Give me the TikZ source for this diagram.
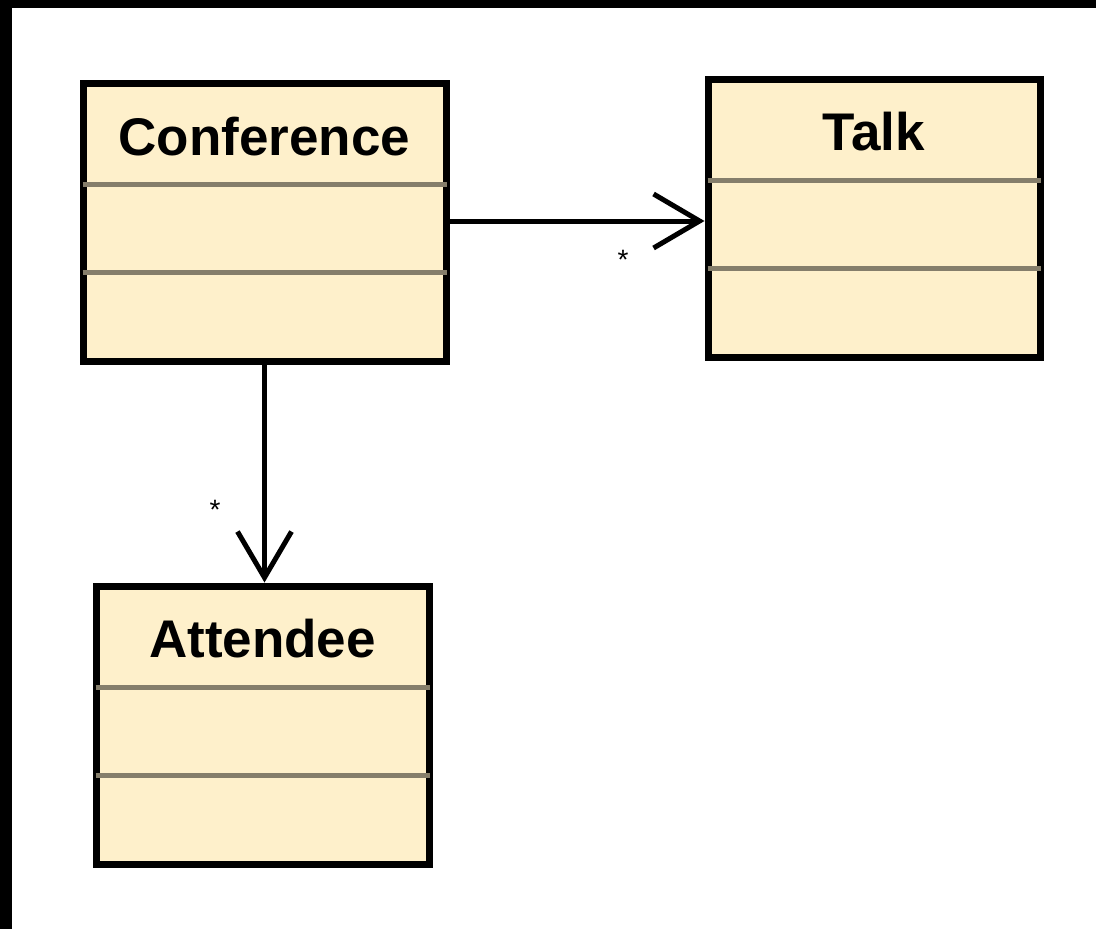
\documentclass[tikz,border=0pt]{standalone}
\usepackage{fontspec}
\setmainfont{Liberation Sans}
\usetikzlibrary{arrows.meta,calc}
\definecolor{boxfill}{HTML}{FEF0CB}
\definecolor{sepgray}{HTML}{857E6B}
\begin{document}
\begin{tikzpicture}[x=1pt,y=-1pt,
  classbox/.style={draw=black,line width=7pt,fill=boxfill,rectangle,inner sep=0pt,minimum height=278pt},
  sepline/.style={draw=sepgray,line width=5pt},
  title/.style={anchor=base,font=\fontsize{53}{60}\selectfont\bfseries,inner sep=0pt},
  mult/.style={anchor=base,font=\fontsize{28}{30}\selectfont,inner sep=0pt},
  assoc/.style={draw=black,line width=5pt,-{Straight Barb[length=46pt,width=54pt]}}]
\useasboundingbox (0,0) rectangle (1096,929);
\fill[white] (0,0) rectangle (1096,929);
\fill[black] (0,0) rectangle (12,929);
\fill[black] (0,0) rectangle (1096,8);
% classes
\node[classbox,minimum width=363pt] (conf) at (264.5,222) {};
\node[classbox,minimum width=332pt] (talk) at (874,218) {};
\node[classbox,minimum width=333pt] (att) at (262.5,725) {};
% separators
\foreach \n in {conf,talk,att}{
  \draw[sepline] ($(\n.north west)+(3,105)$) -- ($(\n.north east)+(-3,105)$);
  \draw[sepline] ($(\n.north west)+(3,193)$) -- ($(\n.north east)+(-3,193)$);
}
% titles
\node[title] (conft) at (264.5,155) {Conference};
\node[title] (talkt) at (874,150) {Talk};
\node[title] (attt) at (262.5,657) {Attendee};
% associations
\coordinate (cfrom) at ($(conf.east)+(0,-1)$);
\draw[assoc] (cfrom) -- (cfrom -| talk.west);
\draw[assoc] (conf.south) -- (conf.south |- att.north);
% multiplicities
\node[mult] (m1) at (623,269) {*};
\node[mult] (m2) at (215,519) {*};
\end{tikzpicture}
\end{document}
